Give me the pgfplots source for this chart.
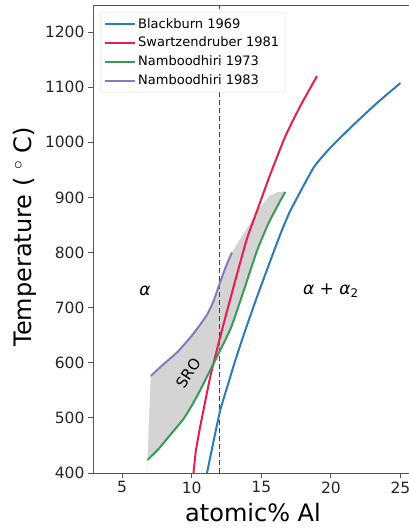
\documentclass[border=0pt]{standalone}
\usepackage{fontspec}
\setmainfont{DejaVu Sans}
\usepackage{pgfplots}
\pgfplotsset{compat=1.18}

\definecolor{cBlack}{HTML}{2B7BB4}
\definecolor{cSwartz}{HTML}{E51E50}
\definecolor{cNam73}{HTML}{3A9A55}
\definecolor{cNam83}{HTML}{8A78BC}
\definecolor{cFrame}{HTML}{555555}

\begin{document}
\begin{tikzpicture}
\useasboundingbox (-93pt,-55pt) rectangle (316pt,473pt);
\begin{axis}[
  scale only axis,
  width=320pt, height=468pt,
  xmin=2.91, xmax=25.9,
  ymin=400, ymax=1249,
  xtick={5,10,15,20,25},
  ytick={400,500,...,1200},
  tick align=outside,
  major tick length=5pt,
  xtick pos=left, ytick pos=left,
  axis line style={cFrame, line width=0.9pt},
  tick style={cFrame, line width=0.8pt},
  tick label style={font=\fontsize{15.5}{18}\selectfont, text=black!85},
  /pgf/number format/assume math mode=true,
  /pgf/number format/1000 sep={},
  xlabel={atomic\% Al},
  ylabel={Temperature ( $^{\circ}$ C)},
  label style={font=\fontsize{24}{28}\selectfont},
  xlabel style={at={(axis description cs:0.5,0)}, anchor=center, yshift=-40pt},
  ylabel style={at={(axis description cs:-0.2125,0.505)}, anchor=center},
  legend style={at={(axis description cs:0,1)}, anchor=north west,
    xshift=7pt, yshift=-7pt, draw=black!15, rounded corners=2pt,
    font=\fontsize{13}{15}\selectfont, row sep=3.5pt, inner sep=4pt},
  legend cell align=left,
  legend image code/.code={%
    \draw[#1] plot coordinates {(0pt,0pt) (15pt,0pt) (30pt,0pt)};},
  every axis plot/.append style={line join=round},
  clip=true,
]
% SRO shaded region
\addplot[fill=gray!42, draw=none, fill opacity=0.8, forget plot] coordinates {
  (6.82,423.5) (7.06,576) (8.0,598) (9.0,620) (10.13,653) (11.1,688) (11.6,712)
  (12.0,745) (12.45,775) (12.89,800) (13.5,825) (14.3,857) (15.0,885) (15.6,903)
  (16.2,910) (16.73,910) (16.37,894) (15.5,852) (14.69,803) (13.7,728) (12.8,662)
  (11.56,598) (10.61,550) (10.0,522) (9.41,498) (8.45,468.7) (7.6,443) (6.82,423.5)
} \closedcycle;
% guide at 12 at.%
\addplot[black!75, line width=1.2pt, dash pattern=on 5pt off 3pt, forget plot]
  coordinates {(12,400) (12,1249)};
\addplot[cBlack, line width=2pt, smooth, tension=0.3] coordinates {
  (11.1,400) (11.55,455) (12.05,514) (12.6,560) (13.13,604) (13.85,659) (14.7,720)
  (15.65,785) (16.4,835) (17.09,876) (18.76,954) (19.96,990) (21.64,1032)
  (23.3,1071) (25.0,1107.5)
};
\addlegendentry{Blackburn 1969}
\addplot[cSwartz, line width=2pt, smooth, tension=0.3] coordinates {
  (10.13,400) (10.3,440) (10.61,484) (11.33,574) (12.1,652) (13.13,749) (13.97,825)
  (14.8,883) (15.65,942) (16.73,1011) (17.81,1066) (19.0,1120)
};
\addlegendentry{Swartzendruber 1981}
\addplot[cNam73, line width=2pt, smooth, tension=0.3] coordinates {
  (6.82,423.5) (7.6,443) (8.45,468.7) (9.41,498) (10.0,522) (10.61,550) (11.56,598)
  (12.8,662) (13.7,728) (14.69,803) (15.5,852) (16.37,894) (16.73,910)
};
\addlegendentry{Namboodhiri 1973}
\addplot[cNam83, line width=2pt, smooth, tension=0.3] coordinates {
  (7.06,576) (8.0,598) (9.0,620) (10.13,653) (11.1,687) (11.6,714) (12.0,743)
  (12.45,774) (12.89,800)
};
\addlegendentry{Namboodhiri 1983}
\node[font=\fontsize{17}{20}\selectfont\itshape] at (axis cs:6.65,731) {α};
\node[font=\fontsize{17}{20}\selectfont] at (axis cs:20,731)
  {{\itshape α} + {\itshape α}\textsubscript{2}};
\node[font=\fontsize{15}{18}\selectfont, rotate=57] at (axis cs:9.75,581) {SRO};
\end{axis}
\end{tikzpicture}
\end{document}
